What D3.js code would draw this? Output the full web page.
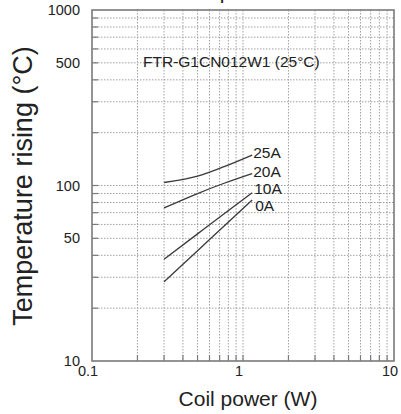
<!DOCTYPE html>
<html><head><meta charset="utf-8">
<script src="https://cdn.jsdelivr.net/npm/d3@7"></script>
<style>
html,body{margin:0;padding:0;background:#fff;}
svg{display:block;font-family:"Liberation Sans",Arial,sans-serif;}
</style></head>
<body>
<svg id="chart" width="401" height="414"></svg>
<script>
// ---- data ----
const coilPower = [0.3, 0.5, 0.75, 1.15];
const temp25A = [104, 113, 128, 149];
const temp20A = [74.5, 90, 103, 117];
const temp10A = [38, 53, 69, 91];
const temp0A  = [28.3, 42.5, 58.8, 82.6];
const seriesNames = ["25A", "20A", "10A", "0A"];
const xTickLabels = ["0.1", "1", "10"];
const yTickLabels = ["10", "50", "100", "500", "1000"];
const chartTitle = "Temperature rise";
const noteText = "FTR-G1CN012W1 (25°C)";
const xTitle = "Coil power (W)";
const yTitle = "Temperature rising (°C)";

const seriesValues = [temp25A, temp20A, temp10A, temp0A];

// ---- layout ----
const svg = d3.select("#chart");
const L = 92, R = 394, T = 10, B = 361;
const x = d3.scaleLog().domain([0.1, 10]).range([L, R]);
const y = d3.scaleLog().domain([10, 1000]).range([B, T]);

const gridColor = "#a0a0a0";
const frameColor = "#7a7a7a";
const textColor = "#222";

// clipped title (only descender visible at top, as in the reference)
svg.append("text").attr("x", 180).attr("y", -1)
  .attr("font-size", 21).attr("fill", textColor).text(chartTitle);

// minor grid values
const xGrid = [];
[0.1, 1].forEach(d => { for (let k = 2; k <= 9; k++) xGrid.push(d * k); });
xGrid.push(1);
const yGrid = [];
[10, 100].forEach(d => { for (let k = 2; k <= 9; k++) yGrid.push(d * k); });
yGrid.push(100);

const g = svg.append("g");
g.selectAll("line.vg").data(xGrid).join("line")
  .attr("x1", d => x(d)).attr("x2", d => x(d))
  .attr("y1", T).attr("y2", B)
  .attr("stroke", gridColor).attr("stroke-width", 1)
  .attr("stroke-dasharray", "1.5,1.5");
g.selectAll("line.hg").data(yGrid).join("line")
  .attr("y1", d => y(d)).attr("y2", d => y(d))
  .attr("x1", L).attr("x2", R)
  .attr("stroke", gridColor).attr("stroke-width", 1)
  .attr("stroke-dasharray", "1.5,1.5");

// inner ticks
g.selectAll("line.xt").data(xGrid).join("line")
  .attr("x1", d => x(d)).attr("x2", d => x(d))
  .attr("y1", B).attr("y2", B - 6)
  .attr("stroke", frameColor).attr("stroke-width", 1.2);
g.selectAll("line.yt").data(yGrid).join("line")
  .attr("y1", d => y(d)).attr("y2", d => y(d))
  .attr("x1", L).attr("x2", L + 6)
  .attr("stroke", frameColor).attr("stroke-width", 1.2);

// frame
svg.append("rect").attr("x", L).attr("y", T).attr("width", R - L).attr("height", B - T)
  .attr("fill", "none").attr("stroke", frameColor).attr("stroke-width", 1.6);

// tick labels
svg.selectAll("text.xl").data(xTickLabels).join("text")
  .attr("x", d => x(+d) - 4).attr("y", 376)
  .attr("text-anchor", "middle").attr("font-size", 14.5).attr("fill", textColor)
  .text(d => d);
svg.selectAll("text.yl").data(yTickLabels).join("text")
  .attr("x", 80).attr("y", d => y(+d) + 5)
  .attr("text-anchor", "end").attr("font-size", 14.5).attr("fill", textColor)
  .text(d => d);

// axis titles
svg.append("text").attr("x", 248).attr("y", 406)
  .attr("text-anchor", "middle").attr("font-size", 21).attr("fill", textColor)
  .text(xTitle);
svg.append("text").attr("transform", "translate(32,186) rotate(-90)")
  .attr("text-anchor", "middle").attr("font-size", 27).attr("fill", textColor)
  .text(yTitle);

// note
svg.append("text").attr("x", 143).attr("y", 67)
  .attr("font-size", 15.5).attr("fill", textColor).text(noteText);

// curves
const line = d3.line()
  .x(d => x(d[0])).y(d => y(d[1]))
  .curve(d3.curveMonotoneX);
seriesValues.forEach((vals, i) => {
  const pts = coilPower.map((p, j) => [p, vals[j]]);
  svg.append("path").attr("d", line(pts))
    .attr("fill", "none").attr("stroke", "#3a3a3a").attr("stroke-width", 1.3);
});

// series labels, placed just right of each curve end
const labelDx = [1, 1, 2, 3];
const labelDy = [3, 3.5, 1, 11];
seriesNames.forEach((name, i) => {
  const last = coilPower.length - 1;
  svg.append("text")
    .attr("x", x(coilPower[last]) + labelDx[i])
    .attr("y", y(seriesValues[i][last]) + labelDy[i])
    .attr("font-size", 15.5).attr("fill", textColor)
    .text(name);
});
</script>
</body></html>
